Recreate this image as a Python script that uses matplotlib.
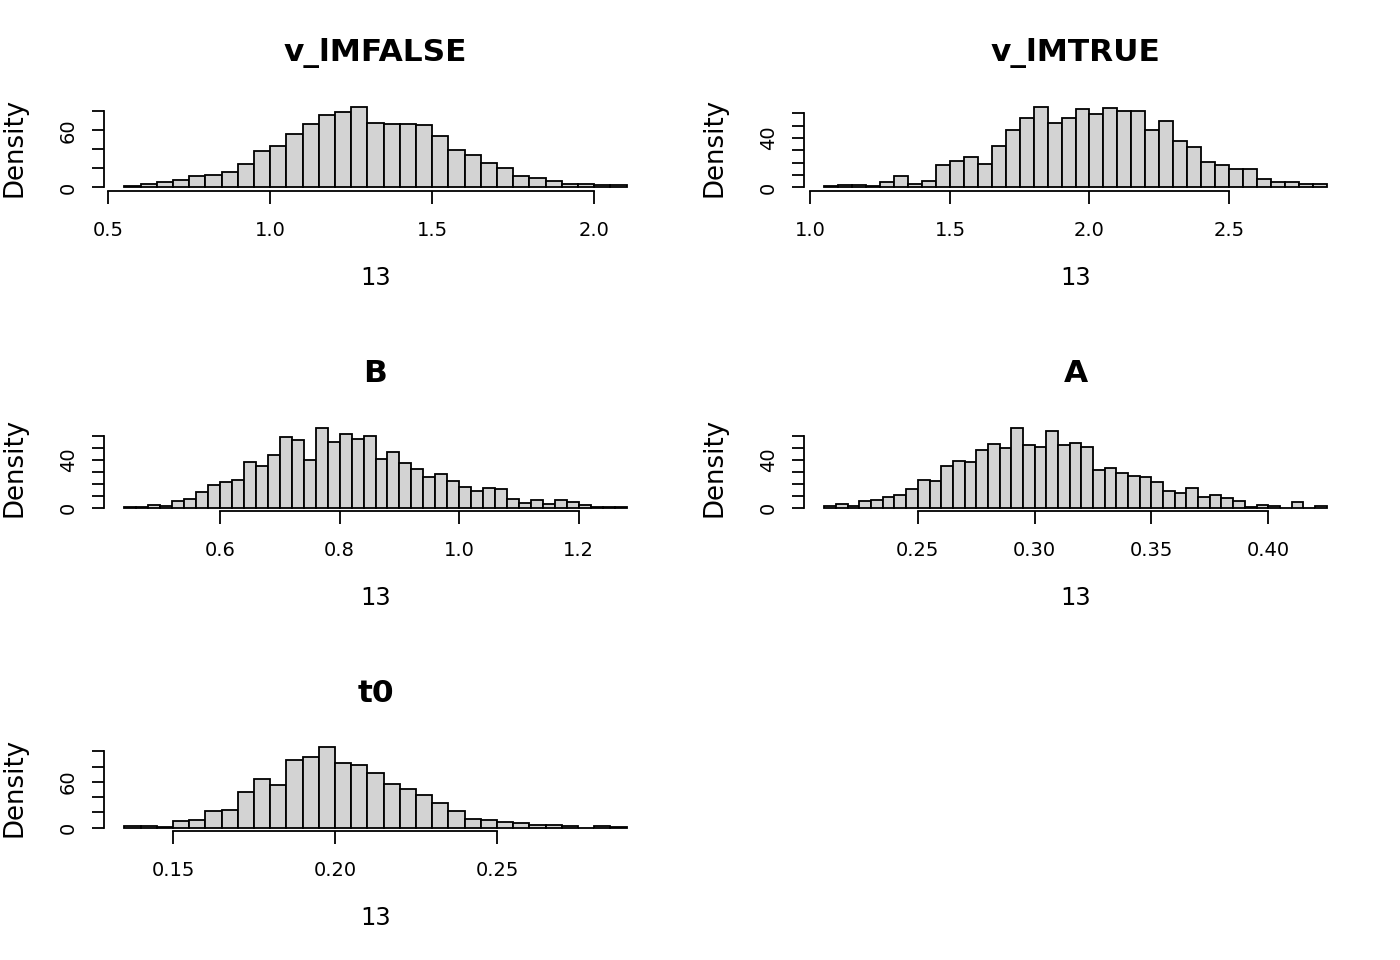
import numpy as np
import matplotlib
matplotlib.use("Agg")
import matplotlib.pyplot as plt

# histogram data (bar heights on the "Density" scale)
titles = ["v_lMFALSE", "v_lMTRUE", "B", "A", "t0"]

v_lmfalse_start, v_lmfalse_width = 0.55, 0.05
v_lmfalse_dens = [1.4, 3.5, 5.5, 7.6, 12.1, 13.1, 16.6, 24.6, 38.1, 43.3, 56.4,
                  66.4, 76.1, 78.9, 84.1, 68.2, 66.4, 67.1, 65.4, 54.3, 39.4,
                  34.3, 25.6, 20.4, 11.8, 10.4, 6.9, 3.8, 3.8, 2.8, 2.8]
v_lmfalse_xticks = [0.5, 1.0, 1.5, 2.0]
v_lmfalse_yticks = [0, 20, 40, 60, 80]
v_lmfalse_ylabels = ["0", "", "", "60", ""]

v_lmtrue_start, v_lmtrue_width = 1.05, 0.05
v_lmtrue_dens = [1.1, 2.1, 2.1, 1.3, 4.3, 9.1, 2.9, 5.3, 17.9, 21.1, 24.8, 18.9,
                 33.9, 46.7, 56.5, 64.8, 52.5, 56.5, 63.7, 59.5, 64.5, 61.6, 61.6,
                 46.7, 53.6, 37.9, 32.8, 20.3, 18.1, 14.9, 14.9, 7.2, 4.3, 4.3,
                 3.2, 3.2]
v_lmtrue_xticks = [1.0, 1.5, 2.0, 2.5]
v_lmtrue_yticks = [0, 10, 20, 30, 40, 50, 60]
v_lmtrue_ylabels = ["0", "", "", "", "40", "", ""]

b_start, b_width = 0.44, 0.02
b_dens = [0.8, 0.8, 2.2, 1.1, 5.2, 7.2, 13.2, 19.0, 21.2, 22.9, 37.7, 35.0, 43.8,
          59.0, 56.5, 39.9, 66.9, 54.5, 61.7, 57.6, 60.1, 40.8, 46.8, 36.9, 32.0,
          25.9, 28.1, 22.0, 17.1, 14.0, 16.3, 15.2, 7.2, 3.9, 6.3, 3.3, 6.3, 4.4,
          2.2, 0.8, 0.8, 0.8]
b_xticks = [0.6, 0.8, 1.0, 1.2]
b_yticks = [0, 10, 20, 30, 40, 50, 60]
b_ylabels = ["0", "", "", "", "40", "", ""]

a_start, a_width = 0.21, 0.005
a_dens = [1.1, 3.3, 1.4, 5.5, 6.3, 9.1, 10.2, 15.4, 23.1, 22.0, 35.0, 39.1, 38.0,
          47.9, 52.9, 50.1, 66.9, 52.0, 51.0, 63.9, 52.0, 54.0, 51.0, 31.1, 33.1,
          29.2, 26.2, 25.1, 21.5, 13.5, 12.4, 16.3, 9.1, 10.2, 8.3, 5.8, 0.6, 2.5,
          1.4, 0.0, 4.4, 0.0, 1.4]
a_xticks = [0.25, 0.30, 0.35, 0.40]
a_yticks = [0, 10, 20, 30, 40, 50, 60]
a_ylabels = ["0", "", "", "", "40", "", ""]

t0_start, t0_width = 0.135, 0.005
t0_dens = [2.2, 2.2, 0.9, 8.7, 10.0, 21.6, 22.5, 46.3, 63.2, 56.3, 88.7, 93.1,
           105.2, 84.4, 81.8, 71.4, 57.6, 50.6, 42.4, 32.5, 22.1, 11.7, 10.0, 7.8,
           5.6, 3.9, 3.5, 2.6, 0.0, 2.6, 1.3]
t0_xticks = [0.15, 0.20, 0.25]
t0_yticks = [0, 20, 40, 60, 80, 100]
t0_ylabels = ["0", "", "", "60", "", ""]

xlab = "13"
ylab = "Density"

panels = [
    (v_lmfalse_start, v_lmfalse_width, v_lmfalse_dens, v_lmfalse_xticks, v_lmfalse_yticks, v_lmfalse_ylabels),
    (v_lmtrue_start, v_lmtrue_width, v_lmtrue_dens, v_lmtrue_xticks, v_lmtrue_yticks, v_lmtrue_ylabels),
    (b_start, b_width, b_dens, b_xticks, b_yticks, b_ylabels),
    (a_start, a_width, a_dens, a_xticks, a_yticks, a_ylabels),
    (t0_start, t0_width, t0_dens, t0_xticks, t0_yticks, t0_ylabels),
]

W, H = 1400, 960
fig = plt.figure(figsize=(W / 100, H / 100), dpi=100)

LW = 1.3
for i, (start, width, dens, xt, yt, ylabs) in enumerate(panels):
    row, col = divmod(i, 2)
    left_px = 104.3 + 700 * col
    right_px = 646.7 + 700 * col
    top_px = 104.3 + 320 * row
    bot_px = 190.7 + 320 * row
    ax = fig.add_axes([left_px / W, 1 - bot_px / H,
                       (right_px - left_px) / W, (bot_px - top_px) / H])

    dens = np.asarray(dens)
    edges = start + width * np.arange(len(dens) + 1)
    ax.bar(edges[:-1], dens, width=width, align="edge", color="#d3d3d3",
           edgecolor="black", linewidth=LW)

    # R style 4% padding around the breaks / density range
    lo, hi = edges[0], edges[-1]
    pad = 0.04 * (hi - lo)
    ax.set_xlim(lo - pad, hi + pad)
    ymax = dens.max()
    ax.set_ylim(-0.04 * ymax, 1.04 * ymax)

    for s in ("top", "right"):
        ax.spines[s].set_visible(False)
    for s in ("left", "bottom"):
        ax.spines[s].set_linewidth(LW)
    ax.spines["bottom"].set_bounds(xt[0], xt[-1])
    ax.spines["left"].set_bounds(yt[0], yt[-1])

    ax.set_xticks(xt)
    ax.set_xticklabels([f"{v:.1f}" if width >= 0.02 else f"{v:.2f}" for v in xt])
    ax.set_yticks(yt)
    ax.set_yticklabels(ylabs)
    ax.tick_params(axis="both", direction="out", length=9, width=LW,
                   labelsize=14, color="black")
    ax.tick_params(axis="x", pad=13)
    ax.tick_params(axis="y", pad=10, labelrotation=90)
    for lab in ax.get_yticklabels():
        lab.set_va("center")

    cx = (left_px + right_px) / 2
    fig.text(cx / W, 1 - (53 + 320 * row) / H, titles[i], ha="center",
             va="center", fontsize=22.5, fontweight="bold")
    fig.text(cx / W, 1 - (278 + 320 * row) / H, xlab, ha="center",
             va="center", fontsize=17.5)
    fig.text((14.5 + 700 * col) / W, 1 - ((top_px + bot_px) / 2) / H, ylab,
             ha="center", va="center", rotation=90, fontsize=18.7)

fig.savefig("out.png", dpi=100)
